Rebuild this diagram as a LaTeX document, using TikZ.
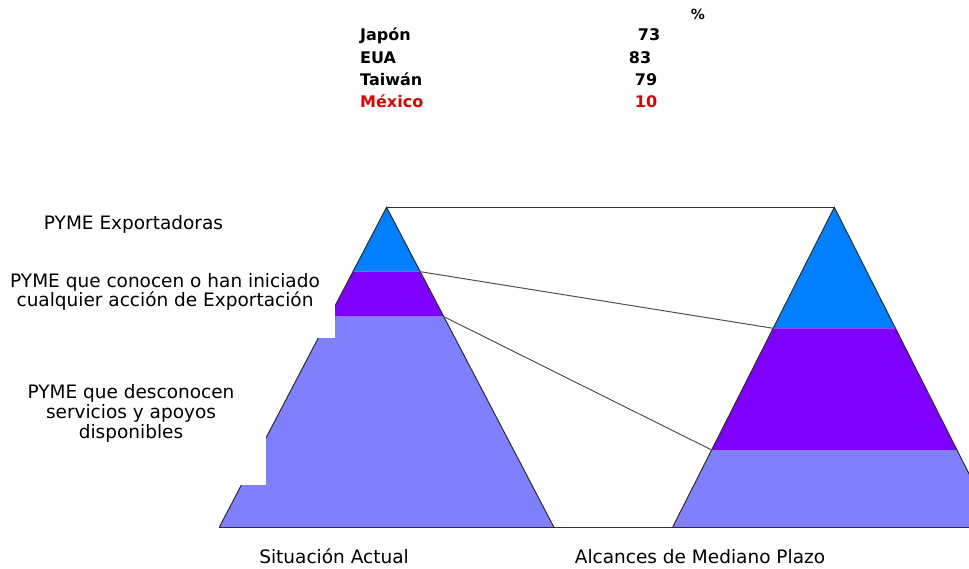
\documentclass[tikz,border=0pt]{standalone}
\usepackage{fontspec}
\setmainfont{DejaVu Sans}
\definecolor{pblue}{RGB}{0,128,255}
\definecolor{ppurple}{RGB}{128,0,255}
\definecolor{plav}{RGB}{128,128,255}
\definecolor{edgecol}{RGB}{45,45,45}
\definecolor{linkcol}{RGB}{80,80,80}
\definecolor{mexred}{RGB}{226,0,0}
\begin{document}
\begin{tikzpicture}[x=1pt,y=-1pt,
  edgeline/.style={draw=edgecol, line width=1pt},
  linkline/.style={draw=linkcol, line width=1pt},
  lbl/.style={font=\fontsize{18.5}{20}\selectfont, align=center, inner sep=0pt},
  tbl/.style={font=\fontsize{16}{18}\selectfont\bfseries, inner sep=0pt, anchor=base west},
  cover/.style={fill=white, draw=none}]
\useasboundingbox (0,0) rectangle (969,569);
% left pyramid points
\coordinate (A)   at (386.6,207.3);
\coordinate (L1l) at (352.9,271.7);
\coordinate (L1r) at (420.3,271.7);
\coordinate (L2l) at (329.3,316.7);
\coordinate (L2r) at (443.9,316.7);
\coordinate (L3l) at (219.4,527);
\coordinate (L3r) at (553.8,527);
% right pyramid points
\coordinate (B)   at (834.3,207.3);
\coordinate (R1l) at (773.2,328.3);
\coordinate (R1r) at (895.4,328.3);
\coordinate (R2l) at (711.7,450);
\coordinate (R2r) at (956.9,450);
\coordinate (R3l) at (672.7,527);
\coordinate (R3r) at (995.9,527);
\begin{scope}
\clip (0,0) rectangle (969,569);
\fill[pblue] (A) -- (L1r) -- (L1l) -- cycle;
\fill[ppurple] (L1l) -- (L1r) -- (L2r) -- (L2l) -- cycle;
\fill[plav] (L2l) -- (L2r) -- (L3r) -- (L3l) -- cycle;
\fill[pblue] (B) -- (R1r) -- (R1l) -- cycle;
\fill[ppurple] (R1l) -- (R1r) -- (R2r) -- (R2l) -- cycle;
\fill[plav] (R2l) -- (R2r) -- (R3r) -- (R3l) -- cycle;
\draw[edgeline] (L3l) -- (A) -- (L3r);
\draw[edgeline] (R3l) -- (B) -- (R3r);
\draw[edgeline] (A) -- (B);
\draw[edgeline] (L3l) -- (R3r);
\draw[linkline] (L1r) -- (R1l);
\draw[linkline] (L2r) -- (R2l);
% cut-outs of the left pyramid
\fill[cover] (0,295) rectangle (334.8,338.3);
\fill[cover] (0,420) rectangle (265.6,485);
\end{scope}
% labels
\node[lbl, anchor=base] (lexp) at (133.5,230) {PYME Exportadoras};
\node[lbl, anchor=base] (lcon) at (165,307) {PYME que conocen o han iniciado\\cualquier acción de Exportación};
\node[lbl, anchor=base] (ldes) at (131,438) {PYME que desconocen\\servicios y apoyos\\disponibles};
\node[lbl, anchor=base] (lsit) at (334,563) {Situación Actual};
\node[lbl, anchor=base] (lalc) at (700,563) {Alcances de Mediano Plazo};
% table
\node[font=\fontsize{14}{16}\selectfont\bfseries, inner sep=0pt, anchor=base] (pct) at (698,20) {\%};
\node[tbl] (tjap) at (360,41) {Japón};
\node[tbl] (teua) at (360,63.5) {EUA};
\node[tbl] (ttai) at (360,85.5) {Taiwán};
\node[tbl, text=mexred] (tmex) at (360,107.5) {México};
\node[tbl, anchor=base] (n73) at (649,41) {73};
\node[tbl, anchor=base] (n83) at (640,63.5) {83};
\node[tbl, anchor=base] (n79) at (646,85.5) {79};
\node[tbl, anchor=base, text=mexred] (n10) at (646,107.5) {10};
\end{tikzpicture}
\end{document}
